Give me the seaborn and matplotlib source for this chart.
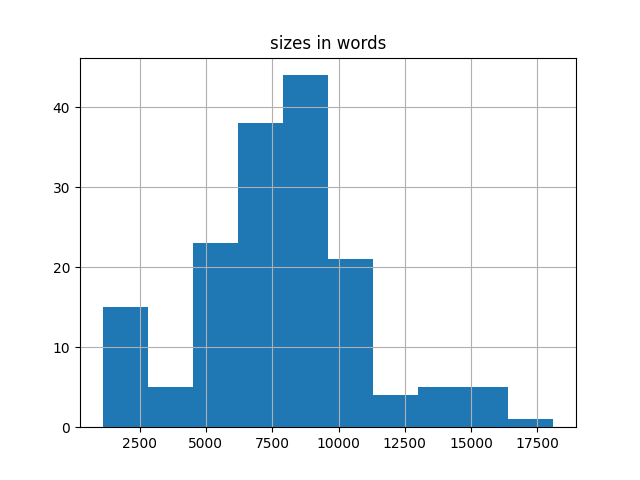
import numpy as np
import matplotlib
matplotlib.use("Agg")
import matplotlib.pyplot as plt
import seaborn as sns

# histogram bins
bin_edges = [1104, 2804, 4504, 6204, 7904, 9604, 11304, 13004, 14704, 16404, 18104]
counts = [15, 5, 23, 38, 44, 21, 4, 5, 5, 1]

centers = [(a + b) / 2 for a, b in zip(bin_edges[:-1], bin_edges[1:])]

fig, ax = plt.subplots(figsize=(6.4, 4.8), dpi=100)
sns.histplot(x=centers, weights=counts, bins=bin_edges, ax=ax,
             color="#1f77b4", alpha=1, linewidth=0)
ax.set_title("sizes in words")
ax.set_xlabel("")
ax.set_ylabel("")
ax.grid(True)
fig.savefig("out.png")
